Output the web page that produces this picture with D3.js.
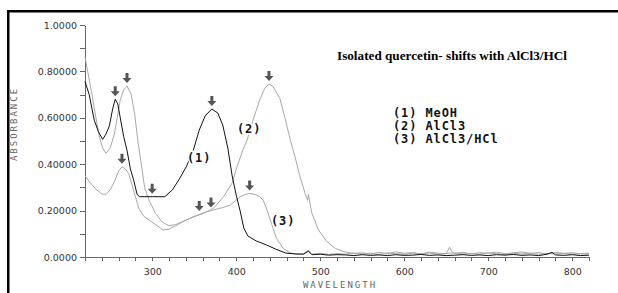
<!DOCTYPE html>
<html>
<head>
<meta charset="utf-8"/>
<script src="https://cdn.jsdelivr.net/npm/d3@7"></script>
<style>
  body { margin: 0; background: #fff; }
  .axis path, .axis line { fill: none; stroke: #666; shape-rendering: crispEdges; }
  .axis text { font-family: "DejaVu Sans", sans-serif; font-size: 9.5px; fill: #333; }
  .mono { font-family: "DejaVu Sans Mono", monospace; font-weight: bold; font-size: 12px; letter-spacing: 0.9px; fill: #111; }
  .albl { font-family: "DejaVu Sans Mono", monospace; font-size: 9px; fill: #666; letter-spacing: 2px; }
</style>
</head>
<body>
<div id="chart"></div>
<script>
// MeOH (1)
var meohWl  = [220,225,231,236,241,245,249,253,256,259,262,266,270,274,278,282,285,300,315,324,333,341,349,356,363,371,378,384,390,395,400,405,409,414,424,436,447,459,471,
               480,486,490,500,510,520,530,540,550,560,570,580,590,600,610,620,630,640,650,660,670,680,690,700,710,720,730,740,750,760,770,776,780,790,800,810,820];
var meohAbs = [0.757,0.70,0.59,0.54,0.507,0.53,0.565,0.64,0.68,0.66,0.60,0.52,0.46,0.38,0.33,0.27,0.26,0.26,0.26,0.289,0.34,0.392,0.461,0.547,0.608,0.638,0.621,0.569,0.47,0.353,0.267,0.194,0.125,0.09,0.069,0.052,0.034,0.017,0.013,
               0.012,0.025,0.01,0.012,0.008,0.01,0.009,0.006,0.01,0.007,0.009,0.006,0.01,0.007,0.008,0.011,0.007,0.009,0.006,0.008,0.01,0.007,0.009,0.006,0.01,0.008,0.011,0.007,0.009,0.006,0.012,0.02,0.009,0.007,0.01,0.006,0.008];

// AlCl3 (2)
var alWl  = [220,228,233,237,241,245,250,255,262,266,270,275,279,283,287,291,296,304,312,320,328,338,345,361,373,385,395,401,408,413,420,428,434,439,444,452,458,464,470,476,482,485,486,488,490,498,508,518,528,
             540,550,560,570,580,590,600,610,620,630,640,650,654,657,660,670,680,690,700,710,720,730,740,750,760,770,780,790,800,810,820];
var alAbs = [0.862,0.707,0.60,0.52,0.47,0.447,0.47,0.53,0.677,0.72,0.737,0.70,0.62,0.50,0.40,0.30,0.246,0.188,0.15,0.135,0.14,0.155,0.167,0.188,0.21,0.26,0.318,0.39,0.461,0.504,0.59,0.677,0.727,0.746,0.734,0.684,0.60,0.51,0.432,0.346,0.274,0.245,0.27,0.228,0.19,0.116,0.066,0.037,0.023,
             0.015,0.018,0.012,0.02,0.014,0.022,0.016,0.019,0.013,0.021,0.017,0.014,0.042,0.022,0.015,0.02,0.013,0.019,0.016,0.021,0.014,0.018,0.022,0.015,0.019,0.013,0.02,0.016,0.018,0.014,0.017];

// AlCl3/HCl (3)
var hclWl  = [220,226,234,240,245,250,255,260,264,268,272,276,280,284,290,298,306,313,320,328,338,348,357,365,373,383,393,400,405,411,416,422,428,432,436,442,448,456,464,472,
              480,486,490,500,510,520,530,540,550,560,570,580,590,600,610,620,630,640,650,660,670,680,690,700,710,720,730,740,750,760,770,780,790,800,810,820];
var hclAbs = [0.35,0.32,0.289,0.272,0.27,0.29,0.325,0.37,0.389,0.38,0.36,0.31,0.26,0.21,0.175,0.155,0.135,0.116,0.12,0.135,0.155,0.172,0.185,0.195,0.203,0.212,0.224,0.245,0.26,0.27,0.274,0.27,0.26,0.245,0.21,0.145,0.08,0.037,0.018,0.012,
              0.014,0.03,0.012,0.016,0.011,0.015,0.012,0.017,0.013,0.016,0.011,0.018,0.014,0.012,0.016,0.013,0.017,0.012,0.015,0.018,0.013,0.016,0.012,0.017,0.014,0.011,0.016,0.013,0.017,0.012,0.015,0.013,0.016,0.012,0.014,0.013];

// arrow marks [wavelength, absorbance]
var arrows = [[256,0.68],[270,0.737],[371,0.638],[439,0.746],[264,0.389],[300,0.26],[356,0.185],[370,0.20],[416,0.274]];

var yTickLabels = {0: "0.0000", 0.2: "0.20000", 0.4: "0.40000", 0.6: "0.60000", 0.8: "0.80000", 1: "1.0000"};
var legendItems = ["(1) MeOH", "(2) AlCl3", "(3) AlCl3/HCl"];
var title = "Isolated quercetin- shifts with AlCl3/HCl";

var w = 618, h = 293;
var svg = d3.select("#chart").append("svg").attr("width", w).attr("height", h);

// frame
svg.append("path").attr("d", "M8.25,293 V11.25 H618").attr("fill", "none").attr("stroke", "#000").attr("stroke-width", 2.5);

var x = d3.scaleLinear().domain([220, 820]).range([85, 589]);
var y = d3.scaleLinear().domain([0, 1]).range([257, 25]);

var xAxis = d3.axisBottom(x).tickValues(d3.range(220, 821, 20))
    .tickFormat(function(d) { return d % 100 === 0 ? d : ""; })
    .tickSize(4).tickSizeOuter(0).tickPadding(7);
var yAxis = d3.axisLeft(y).tickValues(d3.range(0, 11).map(function(i) { return i / 10; }))
    .tickFormat(function(d) { var k = Math.round(d * 10) / 10; return yTickLabels[k] || ""; })
    .tickSize(5).tickSizeOuter(0).tickPadding(3);

svg.append("g").attr("class", "axis").attr("transform", "translate(0,257)").call(xAxis);
svg.append("g").attr("class", "axis").attr("transform", "translate(85,0)").call(yAxis);

svg.append("text").attr("class", "albl").attr("transform", "translate(17,124) rotate(-90)")
   .attr("text-anchor", "middle").text("ABSORBANCE");
svg.append("text").attr("class", "albl").attr("x", 340).attr("y", 288)
   .attr("text-anchor", "middle").text("WAVELENGTH");

var line = d3.line().x(function(d) { return x(d[0]); }).y(function(d) { return y(d[1]); });
function pairs(a, b) { return a.map(function(v, i) { return [v, b[i]]; }); }

svg.append("path").datum(pairs(hclWl, hclAbs)).attr("d", line)
   .attr("fill", "none").attr("stroke", "#a8a8a8").attr("stroke-width", 1);
svg.append("path").datum(pairs(alWl, alAbs)).attr("d", line)
   .attr("fill", "none").attr("stroke", "#a8a8a8").attr("stroke-width", 1);
svg.append("path").datum(pairs(meohWl, meohAbs)).attr("d", line)
   .attr("fill", "none").attr("stroke", "#111").attr("stroke-width", 1);

// arrows
svg.selectAll(".arrow").data(arrows).enter().append("path").attr("class", "arrow")
   .attr("transform", function(d) { return "translate(" + x(d[0]) + "," + (y(d[1]) - 3) + ")"; })
   .attr("d", "M0,0 L-4.5,-5 L-1.5,-5 L-1.5,-10 L1.5,-10 L1.5,-5 L4.5,-5 Z")
   .attr("fill", "#555");

// curve labels
var curveLabels = [["(1)", 187, 162], ["(2)", 237, 133], ["(3)", 271, 225]];
svg.selectAll(".clbl").data(curveLabels).enter().append("text").attr("class", "mono")
   .attr("x", function(d) { return d[1]; }).attr("y", function(d) { return d[2]; })
   .attr("stroke", "#fff").attr("stroke-width", 3).attr("paint-order", "stroke")
   .text(function(d) { return d[0]; });

svg.append("text").attr("x", 337).attr("y", 60)
   .attr("textLength", 230).attr("lengthAdjust", "spacingAndGlyphs")
   .style("font-family", "'Liberation Serif', serif").style("font-weight", "bold").style("font-size", "12.5px")
   .text(title);

svg.selectAll(".leg").data(legendItems).enter().append("text").attr("class", "mono")
   .attr("x", 393).attr("y", function(d, i) { return 117 + i * 13; })
   .text(function(d) { return d; });
</script>
</body>
</html>
